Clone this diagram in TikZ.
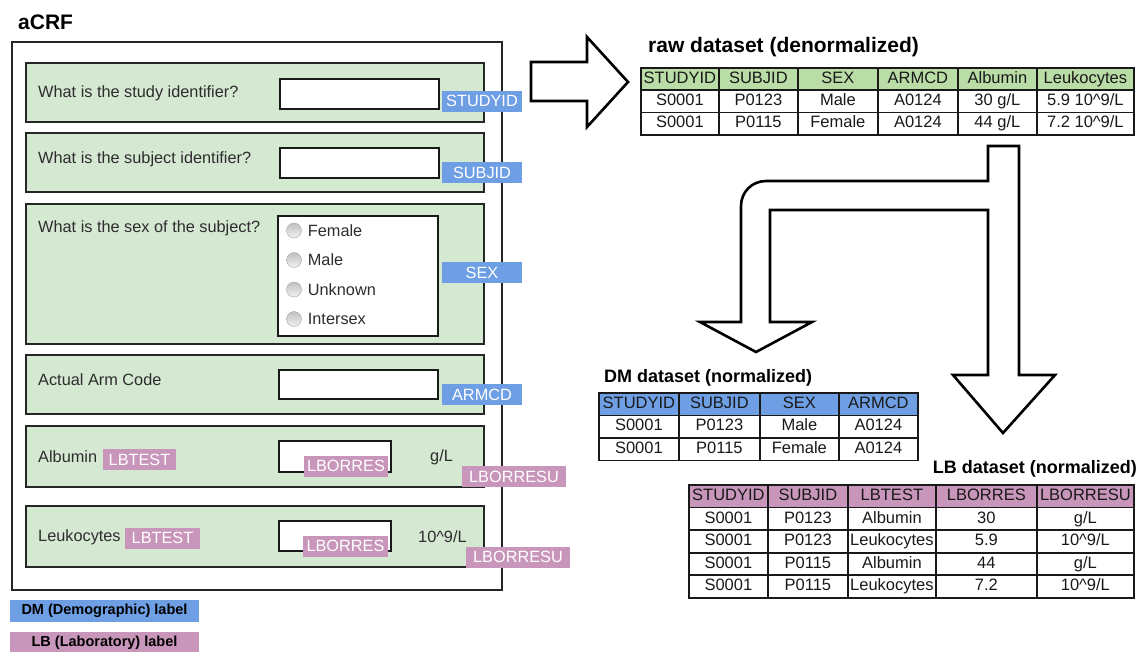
\documentclass[tikz,border=0pt]{standalone}
\usepackage{fontspec}
\setsansfont{Liberation Sans}
\usetikzlibrary{matrix,positioning,shapes}
\definecolor{crf_green}{RGB}{213,232,210}
\definecolor{raw_green}{RGB}{186,220,166}
\definecolor{dm_blue}{RGB}{110,158,228}
\definecolor{lb_pink}{RGB}{200,150,186}
\definecolor{txt_grey}{RGB}{45,45,45}
\tikzset{
  panel/.style = {draw=black!85, line width=2.2pt, fill=crf_green, minimum width=458pt, anchor=north west, inner sep=0pt},
  field/.style = {draw=black!90, line width=2.2pt, fill=white, anchor=north west, inner sep=0pt},
  question/.style = {anchor=west, inner sep=0pt, text=txt_grey, font=\sffamily\fontsize{16.3}{18}\selectfont},
  tag/.style = {inner sep=0pt, minimum height=21pt, text=white, font=\sffamily\fontsize{16.3}{18}\selectfont},
  dm_tag/.style = {tag, fill=dm_blue, minimum width=80pt},
  lb_tag/.style = {tag, fill=lb_pink},
  radio/.style = {circle, draw=black!35, top color=black!25, bottom color=black!5, minimum size=15pt, inner sep=0pt},
  title/.style = {anchor=west, inner sep=0pt, font=\sffamily\bfseries\fontsize{21}{24}\selectfont},
  legend/.style = {minimum width=189pt, minimum height=22pt, inner sep=0pt, font=\sffamily\bfseries\fontsize{14.5}{16}\selectfont},
  datatable/.style = {matrix of nodes, anchor=north west, inner sep=0pt, outer sep=0pt,
    column sep=-1.8pt, row sep=-1.8pt,
    nodes={draw=black!90, line width=1.8pt, inner sep=0pt, text height=12pt, text depth=3.5pt,
      text=black!90, font=\sffamily\fontsize{16.5}{19}\selectfont}},
  bigarrow/.style = {draw=black, line width=2.6pt, fill=white, line join=miter}
}
\begin{document}
\begin{tikzpicture}[x=1pt,y=-1pt]
\useasboundingbox (0,0) rectangle (1137,651);

% aCRF form
\node[title] (crf_title) at (18,22) {aCRF};
\draw[draw=black!85, line width=1.8pt] (12,42) rectangle (502,590);
\foreach \i/\top/\ht in {1/62/59, 2/132/59, 3/203/140, 4/354/59, 5/425/61, 6/505/61}
  \node[panel, minimum height=\ht pt] (p\i) at (25,\top) {};

\node[question] (q1) at (38,93) {What is the study identifier?};
\node[question] (q2) at (38,159) {What is the subject identifier?};
\node[question] (q3) at (38,228) {What is the sex of the subject?};
\node[question] (q4) at (38,380) {Actual Arm Code};
\node[question] (q5) at (38,457) {Albumin};
\node[question] (q6) at (38,537) {Leukocytes};

\node[field, minimum width=159pt, minimum height=30pt] (f1) at (279,78) {};
\node[field, minimum width=159pt, minimum height=30pt] (f2) at (279,147) {};
\node[field, minimum width=160pt, minimum height=120pt] (f3) at (277,215) {};
\node[field, minimum width=159pt, minimum height=29pt] (f4) at (278,369) {};
\node[field, minimum width=112pt, minimum height=31pt] (f5) at (278,440) {};
\node[field, minimum width=112pt, minimum height=30pt] (f6) at (278,520) {};

\foreach \opt [count=\i] in {Female,Male,Unknown,Intersex} {
  \node[radio] (r\i) at (294,201+29.5*\i) {};
  \node[question, right=6pt of r\i] (o\i) {\opt};
}

\node[question] (u5) at (430,457) {g/L};
\node[question] (u6) at (418,537) {10\textasciicircum 9/L};

% labels
\node[dm_tag] (t_studyid) at (482,101) {STUDYID};
\node[dm_tag] (t_subjid) at (482,172.5) {SUBJID};
\node[dm_tag] (t_sex) at (482,272.5) {SEX};
\node[dm_tag] (t_armcd) at (482,394.5) {ARMCD};
\node[lb_tag, minimum width=73pt] (t_test5) at (139.5,459.5) {LBTEST};
\node[lb_tag, minimum width=84pt] (t_orres5) at (346,466) {LBORRES};
\node[lb_tag, minimum width=104pt] (t_orresu5) at (514,476.5) {LBORRESU};
\node[lb_tag, minimum width=75pt] (t_test6) at (162.5,538) {LBTEST};
\node[lb_tag, minimum width=85pt] (t_orres6) at (345.5,546) {LBORRES};
\node[lb_tag, minimum width=104pt] (t_orresu6) at (518,557) {LBORRESU};

% legend
\node[legend, fill=dm_blue] (leg_dm) at (104.5,611) {DM (Demographic) label};
\node[legend, fill=lb_pink] (leg_lb) at (104.5,643) {LB (Laboratory) label};

% arrows
\draw[bigarrow] (531,62) -- (587,62) -- (587,37) -- (628,82) -- (587,127) -- (587,101) -- (531,101) -- cycle;
\draw[bigarrow] (988,146) -- (1019,146) -- (1019,375) -- (1055,375) -- (1003,433) -- (953,375)
  -- (988,375) -- (988,210) -- (770,210) -- (770,322) -- (812,322) -- (756,352) -- (700,322)
  -- (741,322) -- (741,206) .. controls (741,192) and (752,181) .. (766,181) -- (988,181) -- cycle;

% raw dataset
\node[title] (raw_title) at (648,47) {raw dataset (denormalized)};
\matrix[datatable, row 1/.style={nodes={fill=raw_green, minimum height=22pt}},
  row 2/.style={nodes={minimum height=22.5pt}}, row 3/.style={nodes={minimum height=22.5pt}},
  column 1/.style={nodes={minimum width=78pt}}, column 2/.style={nodes={minimum width=79pt}},
  column 3/.style={nodes={minimum width=80pt}}, column 4/.style={nodes={minimum width=80pt}},
  column 5/.style={nodes={minimum width=79pt}}, column 6/.style={nodes={minimum width=97pt}}]
  (raw) at (640,67) {
  STUDYID & SUBJID & SEX & ARMCD & Albumin & Leukocytes \\
  S0001 & P0123 & Male & A0124 & 30 g/L & 5.9 10\textasciicircum 9/L \\
  S0001 & P0115 & Female & A0124 & 44 g/L & 7.2 10\textasciicircum 9/L \\
};

% DM dataset
\node[title, font=\sffamily\bfseries\fontsize{18}{20}\selectfont] (dm_title) at (604,378) {DM dataset (normalized)};
\matrix[datatable, nodes={minimum height=22.5pt}, row 1/.style={nodes={fill=dm_blue}},
  column 1/.style={nodes={minimum width=80pt}}, column 2/.style={nodes={minimum width=81pt}},
  column 3/.style={nodes={minimum width=79pt}}, column 4/.style={nodes={minimum width=79pt}}]
  (dm) at (598,392) {
  STUDYID & SUBJID & SEX & ARMCD \\
  S0001 & P0123 & Male & A0124 \\
  S0001 & P0115 & Female & A0124 \\
};

% LB dataset
\node[title, anchor=east, font=\sffamily\bfseries\fontsize{18}{20}\selectfont] (lb_title) at (1137,469) {LB dataset (normalized)};
\matrix[datatable, nodes={minimum height=22.6pt}, row 1/.style={nodes={fill=lb_pink}},
  column 1/.style={nodes={minimum width=79pt}}, column 2/.style={nodes={minimum width=80pt}},
  column 3/.style={nodes={minimum width=88pt}}, column 4/.style={nodes={minimum width=101pt}},
  column 5/.style={nodes={minimum width=97pt}}]
  (lb) at (688,484) {
  STUDYID & SUBJID & LBTEST & LBORRES & LBORRESU \\
  S0001 & P0123 & Albumin & 30 & g/L \\
  S0001 & P0123 & Leukocytes & 5.9 & 10\textasciicircum 9/L \\
  S0001 & P0115 & Albumin & 44 & g/L \\
  S0001 & P0115 & Leukocytes & 7.2 & 10\textasciicircum 9/L \\
};
\end{tikzpicture}
\end{document}
